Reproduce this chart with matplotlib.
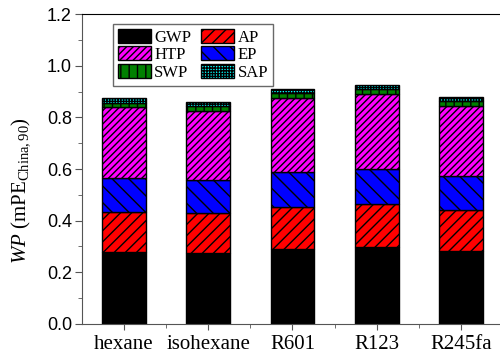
import numpy as np
import matplotlib
matplotlib.use('Agg')
import matplotlib.pyplot as plt

# Impact potentials per working fluid (mPE China,90)
fluids = ['hexane', 'isohexane', 'R601', 'R123', 'R245fa']
gwp = [0.280, 0.274, 0.290, 0.297, 0.283]
ap = [0.155, 0.154, 0.163, 0.166, 0.157]
ep = [0.130, 0.131, 0.137, 0.138, 0.133]
htp = [0.274, 0.267, 0.286, 0.288, 0.272]
swp = [0.017, 0.018, 0.017, 0.019, 0.019]
sap = [0.017, 0.017, 0.015, 0.017, 0.016]

categories = ['GWP', 'AP', 'EP', 'HTP', 'SWP', 'SAP']
series = [gwp, ap, ep, htp, swp, sap]
colors = ['#000000', '#FF0000', '#0000FF', '#FF00FF', '#008000', '#00FFFF']
hatches = ['', '///', '\\\\', '/////', '||', '++++++']

plt.rcParams['font.family'] = ['Liberation Serif', 'DejaVu Serif']
plt.rcParams['mathtext.fontset'] = 'custom'
plt.rcParams['mathtext.rm'] = 'Liberation Serif'
plt.rcParams['mathtext.it'] = 'Liberation Serif:italic'
plt.rcParams['hatch.linewidth'] = 1.0

fig = plt.figure(figsize=(5.0, 3.61), dpi=100)
ax = fig.add_axes([0.1634, 0.1025, 0.843, 0.8587])

x = np.arange(1, len(fluids) + 1)
bottom = np.zeros(len(fluids))
bars = {}
for name, vals, c, h in zip(categories, series, colors, hatches):
    vals = np.array(vals)
    bars[name] = ax.bar(x, vals, width=0.52, bottom=bottom, color=c,
                        edgecolor='black', linewidth=1.0, hatch=h, label=name)
    bottom += vals

ax.set_xlim(0.5, 5.5)
ax.set_ylim(0, 1.2)
ax.set_xticks(x)
ax.set_xticklabels(fluids, fontsize=15)
ax.set_xticks(np.arange(1.5, 5.5, 1.0), minor=True)
ax.set_yticks(np.arange(0, 1.21, 0.2))
ax.set_yticks(np.arange(0.1, 1.2, 0.2), minor=True)
ax.set_yticklabels(['%.1f' % v for v in np.arange(0, 1.21, 0.2)],
                   family='Liberation Sans', fontsize=13)

ax.spines['right'].set_visible(False)
ax.spines['top'].set_color('black')
ax.spines['left'].set_color('#555555')
ax.spines['bottom'].set_color('#555555')
ax.tick_params(axis='y', which='major', direction='out', length=5, color='#555555', pad=2)
ax.tick_params(axis='y', which='minor', direction='out', length=3, color='#555555')
ax.tick_params(axis='x', which='major', direction='out', length=4, color='#555555', pad=4)
ax.tick_params(axis='x', which='minor', direction='out', length=3, color='#555555')

ax.set_ylabel(r'$WP$ (mPE$_{\mathrm{China,90}}$)', fontsize=15)
ax.yaxis.set_label_coords(-0.118, 0.43)

order = ['GWP', 'HTP', 'SWP', 'AP', 'EP', 'SAP']
leg = ax.legend([bars[k] for k in order], order, ncol=2, loc='upper left',
                bbox_to_anchor=(0.074, 0.968), borderaxespad=0, fontsize=12,
                fancybox=False, handlelength=1.96, handleheight=0.9,
                handletextpad=0.22, columnspacing=0.6, labelspacing=0.05,
                borderpad=0.3)
leg.get_frame().set_edgecolor('#444444')
leg.get_frame().set_linewidth(1.0)

fig.savefig('out.png', dpi=100)
